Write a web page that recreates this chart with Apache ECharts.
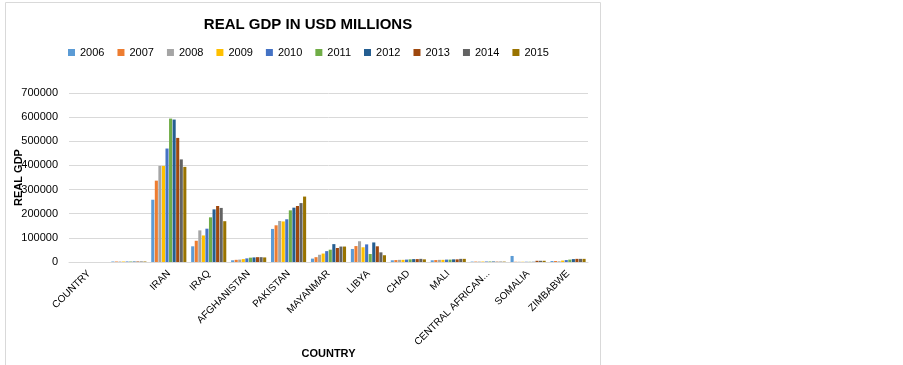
<!DOCTYPE html>
<html>
<head>
<meta charset="utf-8">
<script src="https://cdn.jsdelivr.net/npm/echarts@6/dist/echarts.min.js"></script>
<style>html,body{margin:0;padding:0;background:#fff;}#c{width:903px;height:365px;}</style>
</head>
<body>
<div id="c"></div>
<script>
const categories = ['COUNTRY', '', 'IRAN', 'IRAQ', 'AFGHANISTAN', 'PAKISTAN', 'MAYANMAR', 'LIBYA', 'CHAD', 'MALI', 'CENTRAL AFRICAN...', 'SOMALIA', 'ZIMBABWE'];
const years = ['2006', '2007', '2008', '2009', '2010', '2011', '2012', '2013', '2014', '2015'];
const yTicks = [0, 100000, 200000, 300000, 400000, 500000, 600000, 700000];

// values per year, in category order
const v2006 = [0, 2000, 258000, 65000, 7000, 137000, 14000, 54000, 7000, 7000, 1700, 25000, 4000];
const v2007 = [0, 2000, 337000, 88000, 9000, 152000, 20000, 66000, 8000, 8000, 1800, 1000, 4000];
const v2008 = [0, 2000, 398000, 131000, 10000, 170000, 30000, 86000, 9000, 9000, 1900, 1000, 3000];
const v2009 = [0, 2000, 398000, 110000, 12000, 168000, 35000, 61000, 9000, 9000, 1900, 1000, 6000];
const v2010 = [0, 2000, 470000, 138000, 15000, 177000, 45000, 73000, 10000, 10000, 2000, 1000, 8000];
const v2011 = [0, 2000, 594000, 185000, 18000, 214000, 51000, 33000, 11000, 10000, 2200, 1000, 10000];
const v2012 = [0, 2000, 590000, 218000, 19000, 225000, 74000, 81000, 12000, 11000, 2100, 1000, 12000];
const v2013 = [0, 2000, 514000, 232000, 20000, 232000, 58000, 65000, 12000, 11000, 1300, 5000, 13000];
const v2014 = [0, 2000, 425000, 224000, 20000, 244000, 64000, 40000, 13000, 13000, 1500, 5000, 13000];
const v2015 = [0, 2000, 394000, 169000, 19000, 271000, 64000, 28000, 11000, 13000, 1600, 5000, 13000];
const seriesValues = [v2006, v2007, v2008, v2009, v2010, v2011, v2012, v2013, v2014, v2015];
const colors = ['#5B9BD5', '#ED7D31', '#A5A5A5', '#FFC000', '#4472C4', '#70AD47', '#255E91', '#9E480E', '#636363', '#997300'];

const chart = echarts.init(document.getElementById('c'), null, {renderer: 'canvas'});
const FONT = 'Liberation Sans';
chart.setOption({
  animation: false,
  color: colors,
  graphic: [{
    type: 'rect', shape: {x: 5.5, y: 2.5, width: 595, height: 380},
    style: {fill: 'none', stroke: '#d9d9d9', lineWidth: 1}, silent: true
  }],
  title: {
    text: 'REAL GDP IN USD MILLIONS', left: 303, top: 12, textAlign: 'center',
    textStyle: {fontFamily: FONT, fontSize: 15, fontWeight: 'bold', color: '#000'}
  },
  legend: {
    data: years, top: 42, left: 63, itemWidth: 7, itemHeight: 7, itemGap: 13,
    icon: 'rect',
    textStyle: {fontFamily: FONT, fontSize: 11, color: '#000'}
  },
  grid: {left: 69, right: 315, top: 93, bottom: 103, containLabel: false, outerBoundsMode: 'none'},
  xAxis: {
    type: 'category', data: categories,
    name: 'COUNTRY', nameLocation: 'middle', nameGap: 86, nameMoveOverlap: false,
    nameTextStyle: {fontFamily: FONT, fontSize: 11, fontWeight: 'bold', color: '#000'},
    axisLine: {lineStyle: {color: '#d9d9d9'}}, axisTick: {show: false},
    axisLabel: {rotate: 45, interval: 0, fontFamily: FONT, fontSize: 10, color: '#000', margin: 10}
  },
  yAxis: {
    type: 'value', min: yTicks[0], max: yTicks[yTicks.length - 1], interval: 100000,
    name: 'REAL GDP', nameLocation: 'middle', nameGap: 45, nameMoveOverlap: false,
    nameTextStyle: {fontFamily: FONT, fontSize: 11, fontWeight: 'bold', color: '#000'},
    axisLine: {show: false}, axisTick: {show: false},
    splitLine: {lineStyle: {color: '#d9d9d9'}},
    axisLabel: {fontFamily: FONT, fontSize: 11, color: '#000', margin: 11, formatter: (v) => String(v)}
  },
  series: years.map((y, i) => ({
    name: y, type: 'bar', data: seriesValues[i],
    barGap: '15%', barCategoryGap: '12%'
  }))
});
</script>
</body>
</html>
